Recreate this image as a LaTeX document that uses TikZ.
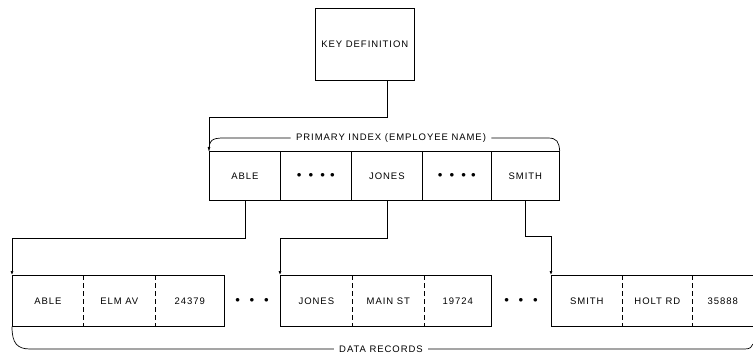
\documentclass[tikz,border=0pt]{standalone}
\usepackage{fontspec}
\setmainfont{Liberation Sans}[LetterSpace=10]
\usetikzlibrary{arrows.meta}
\begin{document}
\begin{tikzpicture}[x=1pt,y=-1pt,
  line width=0.7pt,
  txt/.style={font=\fontsize{9.5}{11}\selectfont},
  lbl/.style={txt, inner sep=0pt},
  cell/.style={draw, txt, minimum height=49pt, inner sep=0pt, anchor=north west},
  rec/.style={txt, minimum height=51pt, inner sep=0pt, anchor=north west},
  conn/.style={-{Latex[length=4pt,width=3pt]}},
  sep/.style={dash pattern=on 5pt off 3pt},
  brace/.style={line width=0.7pt}
]
\useasboundingbox (0,0) rectangle (753,356);

% key definition
\node[draw, txt, minimum width=99pt, minimum height=72pt, inner sep=0pt, anchor=north west] (key) at (315,8) {KEY DEFINITION};

% primary index row
\node[cell, minimum width=71pt] (iable) at (209,151) {ABLE};
\node[cell, minimum width=71pt] (idots1) at (280,151) {$\bullet\;\;\bullet\;\;\bullet\;\;\bullet$};
\node[cell, minimum width=71pt] (ijones) at (351,151) {JONES};
\node[cell, minimum width=69pt] (idots2) at (422,151) {$\bullet\;\;\bullet\;\;\bullet\;\;\bullet$};
\node[cell, minimum width=68pt] (ismith) at (491,151) {SMITH};

% brace primary index
\node[lbl] (pilbl) at (391,138) {PRIMARY INDEX (EMPLOYEE NAME)};
\draw[brace] (iable.north west) .. controls (209,140) and (212,138) .. (224,138) -- ([xshift=-5pt]pilbl.west);
\draw[brace] ([xshift=5pt]pilbl.east) -- (548,138) .. controls (557,138) and (559,142) .. (ismith.north east);

% key connector
\coordinate (k1) at (387,117);
\draw[conn] (key.south -| k1) -- (k1) -| (iable.north west);

% data records
\node[rec, minimum width=71pt] (able) at (12,275) {ABLE};
\node[rec, minimum width=72pt] (elm) at (83,275) {ELM AV};
\node[rec, minimum width=69pt] (n1) at (155,275) {24379};
\draw (able.north west) rectangle (n1.south east);
\draw[sep] (elm.north west) -- (elm.south west);
\draw[sep] (n1.north west) -- (n1.south west);
\node[lbl] (dots1) at (252,300) {$\bullet\;\;\;\bullet\;\;\;\bullet$};

\node[rec, minimum width=72pt] (jones) at (280,275) {JONES};
\node[rec, minimum width=72pt] (main) at (352,275) {MAIN ST};
\node[rec, minimum width=67pt] (n2) at (424,275) {19724};
\draw (jones.north west) rectangle (n2.south east);
\draw[sep] (main.north west) -- (main.south west);
\draw[sep] (n2.north west) -- (n2.south west);
\node[lbl] (dots2) at (521,300) {$\bullet\;\;\;\bullet\;\;\;\bullet$};

\node[rec, minimum width=71pt] (smith) at (551,275) {SMITH};
\node[rec, minimum width=70pt] (holt) at (622,275) {HOLT RD};
\node[rec, minimum width=61pt] (n3) at (692,275) {35888};
\draw (n3.north east) -- (smith.north west) -- (smith.south west) -- (n3.south east);
\draw[sep] (holt.north west) -- (holt.south west);
\draw[sep] (n3.north west) -- (n3.south west);

% connectors index -> records
\draw[conn] (iable.south) -- ++(0,38) -| (able.north west);
\draw[conn] (ijones.south) -- ++(0,38) -| (jones.north west);
\draw[conn] (ismith.south) -- ++(0,36) -| (smith.north west);

% data records brace
\node[lbl] (drlbl) at (381,349) {DATA RECORDS};
\draw[brace] (able.south west) .. controls (12,343) and (17,349) .. (30,349) -- ([xshift=-5pt]drlbl.west);
\draw[brace] ([xshift=5pt]drlbl.east) -- (745,349) .. controls (750,349) and (752,347) .. (753,344);
\end{tikzpicture}
\end{document}
